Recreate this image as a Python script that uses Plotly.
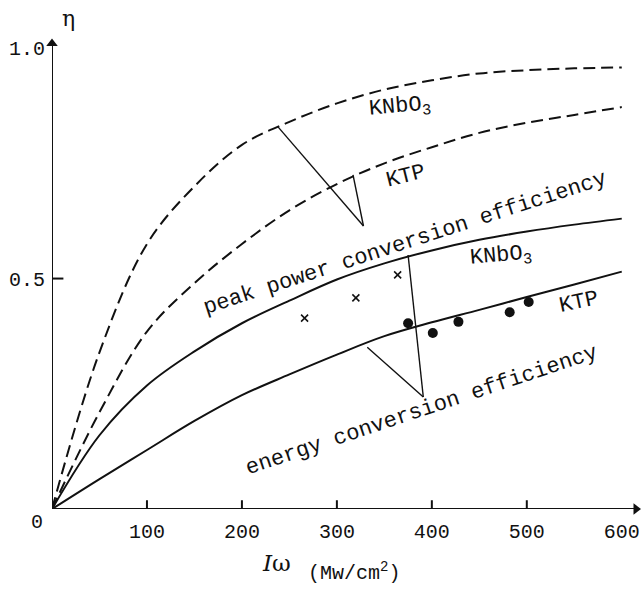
import plotly.graph_objects as go

# ---- data ----
I_grid = [0, 50, 100, 150, 200, 250, 300, 350, 400, 450, 500, 550, 600]
peak_KNbO3 = [0, 0.34, 0.575, 0.70, 0.79, 0.84, 0.88, 0.91, 0.93, 0.945, 0.952, 0.956, 0.958]
peak_KTP = [0, 0.21, 0.385, 0.49, 0.575, 0.648, 0.705, 0.75, 0.785, 0.816, 0.838, 0.855, 0.872]
energy_KNbO3 = [0, 0.16, 0.268, 0.342, 0.403, 0.452, 0.498, 0.533, 0.561, 0.584, 0.602, 0.617, 0.630]
energy_KTP = [0, 0.065, 0.128, 0.191, 0.247, 0.292, 0.335, 0.375, 0.405, 0.432, 0.46, 0.487, 0.515]

cross_I = [266, 320, 364]
cross_eta = [0.414, 0.458, 0.508]
dot_I = [375, 401, 428, 482, 502]
dot_eta = [0.403, 0.382, 0.406, 0.427, 0.449]

# leader lines (pointer lines from labels to curves)
leader_peak_KNbO3 = ([238, 328], [0.829, 0.614])
leader_peak_KTP = ([317, 328], [0.725, 0.614])
leader_en_KNbO3 = ([375, 391], [0.551, 0.243])
leader_en_KTP = ([332, 391], [0.351, 0.243])

x_ticks = [100, 200, 300, 400, 500, 600]
x_tick_marks = [100, 200, 300, 400, 500]
y_ticks = [0.5, 1.0]
y_tick_marks = [0.5]
x_axis_end = 615
y_axis_end = 1.01

INK = "#111111"
FONT = "Liberation Mono"

fig = go.Figure()

for ys in (peak_KNbO3, peak_KTP):
    fig.add_trace(go.Scatter(x=I_grid, y=ys, mode="lines", line_shape="spline",
                             line=dict(color=INK, width=2, dash="12px,6px"),
                             hoverinfo="skip", showlegend=False))
for ys in (energy_KNbO3, energy_KTP):
    fig.add_trace(go.Scatter(x=I_grid, y=ys, mode="lines", line_shape="spline",
                             line=dict(color=INK, width=2),
                             hoverinfo="skip", showlegend=False))

for lx, ly in (leader_peak_KNbO3, leader_peak_KTP, leader_en_KNbO3, leader_en_KTP):
    fig.add_trace(go.Scatter(x=lx, y=ly, mode="lines",
                             line=dict(color=INK, width=1.4),
                             hoverinfo="skip", showlegend=False))

fig.add_trace(go.Scatter(x=cross_I, y=cross_eta, mode="markers",
                         marker=dict(symbol="x-thin", size=7,
                                     line=dict(color=INK, width=1.6)),
                         showlegend=False))
fig.add_trace(go.Scatter(x=dot_I, y=dot_eta, mode="markers",
                         marker=dict(symbol="circle", size=10, color=INK),
                         showlegend=False))

# axis lines with arrowheads
fig.add_shape(type="line", x0=0, y0=0, x1=x_axis_end, y1=0, xref="x", yref="y",
              line=dict(color=INK, width=2))
fig.add_shape(type="line", x0=0, y0=0, x1=0, y1=y_axis_end, xref="x", yref="y",
              line=dict(color=INK, width=2))
fig.add_trace(go.Scatter(x=[x_axis_end], y=[0], mode="markers", cliponaxis=False,
                         marker=dict(symbol="triangle-right", size=10, color=INK),
                         hoverinfo="skip", showlegend=False))
fig.add_trace(go.Scatter(x=[0], y=[y_axis_end], mode="markers", cliponaxis=False,
                         marker=dict(symbol="triangle-up", size=10, color=INK),
                         hoverinfo="skip", showlegend=False))

# small inward tick marks (drawn as tick-shaped traces on the axes)
tx, ty = [], []
for v in x_tick_marks:
    tx += [v, v, None]
    ty += [0, 0.019, None]
for v in y_tick_marks:
    tx += [0, 12, None]
    ty += [v, v, None]
fig.add_trace(go.Scatter(x=tx, y=ty, mode="lines", cliponaxis=False,
                         line=dict(color=INK, width=2),
                         hoverinfo="skip", showlegend=False))

ann = []

def label(x, y, text, size=22, angle=0):
    ann.append(dict(x=x, y=y, xref="x", yref="y", text=text, showarrow=False,
                    textangle=angle, font=dict(family=FONT, size=size, color=INK)))

label(366, 0.87, "KNbO<sub>3</sub>", angle=-5)
label(373, 0.722, "KTP", angle=-14)
label(372, 0.575, "peak power conversion efficiency", angle=-18)
label(473, 0.547, "KNbO<sub>3</sub>", angle=-5)
label(555, 0.449, "KTP", angle=-12)
label(390, 0.213, "energy conversion efficiency", angle=-18.5)

# origin label, eta, x title
ann.append(dict(x=0, y=0, xref="x", yref="y", text="0", showarrow=False,
                xshift=-15, yshift=-13, font=dict(family=FONT, size=20, color=INK)))
ann.append(dict(x=17, y=1.065, xref="x", yref="y", text="η", showarrow=False,
                font=dict(family="DejaVu Serif", size=22, color=INK)))
ann.append(dict(x=0.385, y=-0.106, xref="paper", yref="paper", showarrow=False,
                xanchor="center", yanchor="middle",
                text="<i>I</i>ω", font=dict(family="DejaVu Serif", size=23, color=INK)))
ann.append(dict(x=0.517, y=-0.124, xref="paper", yref="paper", showarrow=False,
                xanchor="center", yanchor="middle",
                text="(Mw/cm<sup>2</sup>)", font=dict(family=FONT, size=20, color=INK)))

fig.update_layout(
    width=641, height=590,
    margin=dict(l=52, r=5, t=2, b=81),
    paper_bgcolor="white", plot_bgcolor="white",
    annotations=ann,
    xaxis=dict(range=[0, 615], tickvals=x_ticks, ticktext=[str(v) for v in x_ticks],
               ticks="", showgrid=False, zeroline=False, showline=False, automargin=False,
               tickfont=dict(family=FONT, size=20, color=INK), ticklabelstandoff=8),
    yaxis=dict(range=[0, 1.1], tickvals=y_ticks, ticktext=["0.5", "1.0"],
               ticks="", showgrid=False, zeroline=False, showline=False, automargin=False,
               tickfont=dict(family=FONT, size=20, color=INK), ticklabelstandoff=6),
)

fig.write_html("out.html", config={"displayModeBar": False},
               post_script="document.body.style.margin='0';document.body.style.overflow='hidden';")
